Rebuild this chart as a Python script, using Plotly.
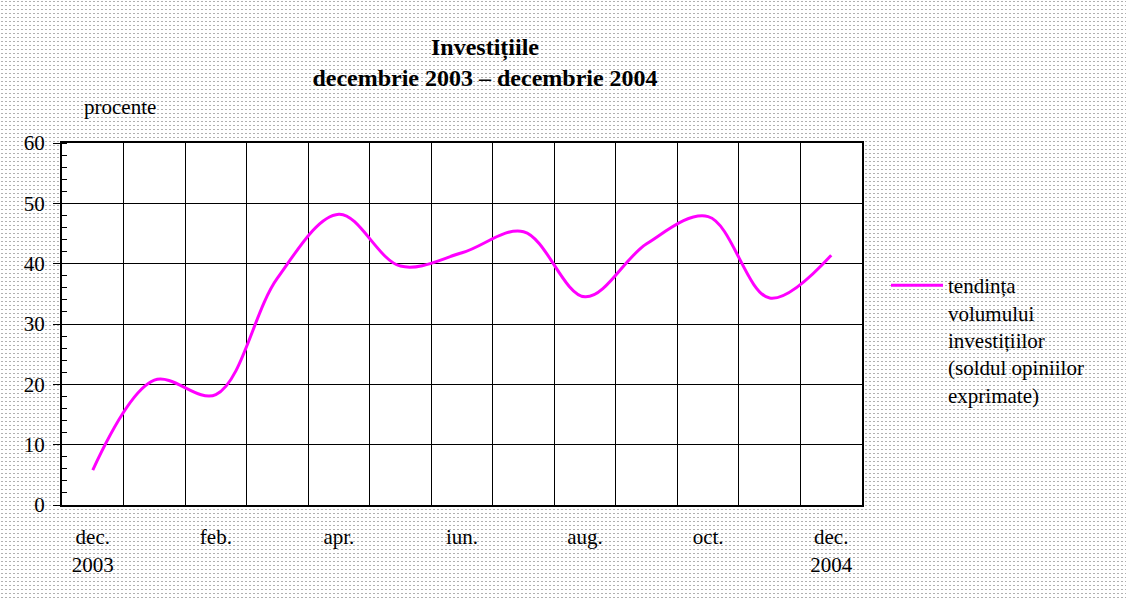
import base64
import struct
import zlib

import plotly.graph_objects as go

# ---- data ----
months = ["dec. 2003", "ian.", "feb.", "mar.", "apr.", "mai", "iun.", "iul.",
          "aug.", "sep.", "oct.", "nov.", "dec. 2004"]
values = [5.8, 20.7, 18.3, 37.6, 48.2, 39.6, 41.8, 45.3, 34.5, 43.3, 47.8, 34.3, 41.4]
tick_positions = [0, 2, 4, 6, 8, 10, 12]
tick_labels = ["dec.<br>2003", "feb.", "apr.", "iun.", "aug.", "oct.", "dec.<br>2004"]
series_name = "tendința<br>volumului<br>investițiilor<br>(soldul opiniilor<br>exprimate)"

x_idx = list(range(len(months)))
boundaries = [i + 0.5 for i in range(len(months) - 1)]

# ---- dotted background pattern (decoration) ----
W, H = 1126, 599


def make_png(w, h):
    rows = []
    dot_row = bytes(0xB0 if (xx % 4) in (1, 2) else 0xFF for xx in range(w))
    blank = b"\xff" * w
    for yy in range(h):
        rows.append(b"\x00" + (dot_row if yy % 4 == 1 else blank))
    raw = b"".join(rows)

    def chunk(tag, data):
        c = struct.pack(">I", len(data)) + tag + data
        return c + struct.pack(">I", zlib.crc32(tag + data) & 0xFFFFFFFF)

    png = b"\x89PNG\r\n\x1a\n"
    png += chunk(b"IHDR", struct.pack(">IIBBBBB", w, h, 8, 0, 0, 0, 0))
    png += chunk(b"IDAT", zlib.compress(raw, 9))
    png += chunk(b"IEND", b"")
    return "data:image/png;base64," + base64.b64encode(png).decode()


ML, MR, MT, MB = 62, 264, 143, 94
PW, PH = W - ML - MR, H - MT - MB

FONT = "Liberation Serif, Times New Roman, serif"

fig = go.Figure()
fig.add_trace(go.Scatter(
    x=x_idx, y=values, mode="lines", name=series_name,
    line=dict(color="#FF00FF", width=3, shape="spline", smoothing=1.0),
    showlegend=True,
))

fig.update_layout(
    width=W, height=H,
    margin=dict(l=ML, r=MR, t=MT, b=MB),
    paper_bgcolor="white",
    plot_bgcolor="white",
    font=dict(family=FONT, size=21, color="black"),
    title=dict(
        text="<b>Investițiile<br>decembrie 2003 – decembrie 2004</b>",
        x=485 / W, xanchor="center", xref="container",
        y=1 - 55 / H, yanchor="top", yref="container",
        font=dict(family=FONT, size=24, color="black"),
    ),
    xaxis=dict(
        range=[-0.5, 12.5],
        tickmode="array", tickvals=tick_positions, ticktext=tick_labels,
        ticks="", showgrid=False, zeroline=False,
        showline=True, linecolor="black", linewidth=2, mirror=True,
        ticklabelstandoff=12,
        minor=dict(tickmode="array", tickvals=boundaries, showgrid=True,
                   gridcolor="black", gridwidth=1, ticks=""),
        tickfont=dict(family=FONT, size=21),
    ),
    yaxis=dict(
        range=[0, 60], dtick=10, tick0=0,
        showgrid=True, gridcolor="black", gridwidth=1, zeroline=False,
        showline=True, linecolor="black", linewidth=2, mirror=True,
        ticks="outside", ticklen=7, tickcolor="black",
        minor=dict(dtick=2, ticks="inside", ticklen=5, tickcolor="black", showgrid=False),
        ticklabelstandoff=4,
        tickfont=dict(family=FONT, size=21),
    ),
    legend=dict(
        x=(886 - ML) / PW, xanchor="left",
        y=(MT + PH - 265) / PH, yanchor="top",
        bgcolor="rgba(0,0,0,0)", valign="top", itemwidth=52,
        font=dict(family=FONT, size=21), tracegroupgap=0,
    ),
    showlegend=True,
    images=[dict(
        source=make_png(W, H), xref="paper", yref="paper",
        x=-ML / PW, y=1 + MT / PH, sizex=W / PW, sizey=H / PH,
        xanchor="left", yanchor="top", sizing="stretch", layer="below",
    )],
    shapes=[dict(type="rect", xref="paper", yref="paper", x0=0, x1=1, y0=0, y1=1,
                 fillcolor="white", line=dict(width=0), layer="below")],
    annotations=[dict(
        text="procente", xref="paper", yref="paper",
        x=(82 - ML) / PW, xanchor="left", y=(MT + PH - 107) / PH, yanchor="middle",
        showarrow=False, font=dict(family=FONT, size=21),
    )],
)

fig.write_html("out.html", config={"displayModeBar": False},
               post_script="document.body.style.margin='0';")
